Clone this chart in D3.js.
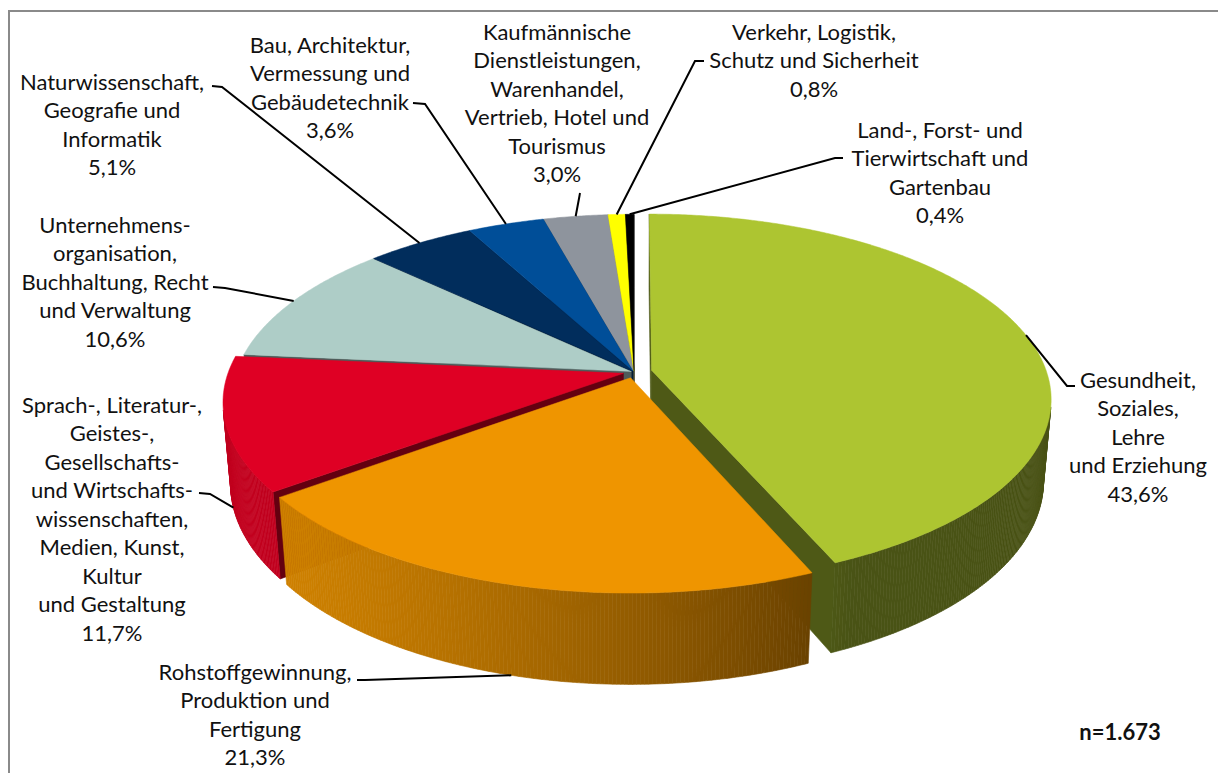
<!DOCTYPE html>
<html>
<head>
<meta charset="utf-8">
<script src="https://cdn.jsdelivr.net/npm/d3@7"></script>
<style>
	body { margin: 0; background: #fff; }
	text { font-family: Lato, "Open Sans", sans-serif; fill: #111; }
</style>
</head>
<body>
<svg id="chart" width="1218" height="773"></svg>
<script>
// data (clockwise from 12 o'clock)
var categories = [
	["Gesundheit,", "Soziales,", "Lehre", "und Erziehung"],
	["Rohstoffgewinnung,", "Produktion und", "Fertigung"],
	["Sprach-, Literatur-,", "Geistes-,", "Gesellschafts-", "und Wirtschafts-", "wissenschaften,", "Medien, Kunst,", "Kultur", "und Gestaltung"],
	["Unternehmens-", "organisation,", "Buchhaltung, Recht", "und Verwaltung"],
	["Naturwissenschaft,", "Geografie und", "Informatik"],
	["Bau, Architektur,", "Vermessung und", "Gebäudetechnik"],
	["Kaufmännische", "Dienstleistungen,", "Warenhandel,", "Vertrieb, Hotel und", "Tourismus"],
	["Verkehr, Logistik,", "Schutz und Sicherheit"],
	["Land-, Forst- und", "Tierwirtschaft und", "Gartenbau"]
];
var shares = [43.6, 21.3, 11.7, 10.6, 5.1, 3.6, 3.0, 0.8, 0.4];
var sliceColors = ["#adc531", "#ef9500", "#df0024", "#aecdc7", "#012d5c", "#004e98", "#8e949d", "#ffff00", "#000000"];
var sampleNote = "n=1.673";

// layout of the labels: centre x, first line y, start and elbow of leader
var labelLayout = [
	{ x: 1138, y: 380, from: [1075, 386], elbow: [1067, 386] },
	{ x: 255, y: 672, from: [357, 680], elbow: [365, 680] },
	{ x: 112, y: 405, from: [199, 493], elbow: [210, 494] },
	{ x: 115, y: 225, from: [213, 287], elbow: [225, 288] },
	{ x: 112, y: 82, from: [212, 86], elbow: [222, 87] },
	{ x: 330, y: 45, from: [413, 103], elbow: [425, 104] },
	{ x: 557, y: 32, from: [580, 193], elbow: [580, 193] },
	{ x: 814, y: 32, from: [704, 61], elbow: [695, 61] },
	{ x: 940, y: 130, from: [843, 158], elbow: [835, 158] }
];
var explode = [18, 13, 11, 3, 3, 3, 3, 3, 3];

var svg = d3.select("#chart");

// frame (cut off at right and bottom like the source)
svg.append("rect")
	.attr("x", 9).attr("y", 11)
	.attr("width", 1240).attr("height", 800)
	.attr("fill", "none")
	.attr("stroke", "#8a8a8a")
	.attr("stroke-width", 2);

// simple perspective camera for the 3d pie
var cx = 634, cy = 372, R = 395, H = 93, D = 2304;
var tilt = 27.2 * Math.PI / 180;
var sinT = Math.sin(tilt), cosT = Math.cos(tilt);
var camera = [0, D * sinT, D * cosT];

function project(p){
	var sy = p[2] * sinT - p[1] * cosT;
	var depth = p[2] * cosT + p[1] * sinT;
	var f = D / (D - depth);
	return { x: cx + p[0] * f, y: cy + sy * f, d: depth };
}

function shade(color, k){
	var c = d3.rgb(color);
	return d3.rgb(c.r * k, c.g * k, c.b * k).formatHex();
}

function faces(p, normal, P){
	var v = [camera[0] - P[0], camera[1] - P[1], camera[2] - P[2]];
	return normal[0] * v[0] + normal[1] * v[1] + normal[2] * v[2] > 0;
}

var arcs = d3.pie().sort(null).value(function(d){ return d; })(shares);

var sideFaces = [];
var topFaces = [];
var step = 0.5 * Math.PI / 180;

arcs.forEach(function(a, i){
	var a0 = a.startAngle, a1 = a.endAngle, am = (a0 + a1) / 2;
	var e = explode[i];
	var ox = e * Math.sin(am), oz = -e * Math.cos(am);
	var color = sliceColors[i];
	function rim(t, y){ return [ox + R * Math.sin(t), y, oz - R * Math.cos(t)]; }
	var centre = function(y){ return [ox, y, oz]; };
	a.rim = rim;
	a.mid = am;

	var n = Math.max(2, Math.ceil((a1 - a0) / step));
	var ts = d3.range(n + 1).map(function(k){ return a0 + (a1 - a0) * k / n; });

	// outer wall
	for(var k = 0; k < n; k++){
		var tm = (ts[k] + ts[k + 1]) / 2;
		var normal = [Math.sin(tm), 0, -Math.cos(tm)];
		if(!faces(null, normal, rim(tm, -H / 2))) continue;
		var light = Math.max(0, normal[0] * -0.9 + normal[2] * 0.44);
		sideFaces.push({
			pts: [rim(ts[k], 0), rim(ts[k + 1], 0), rim(ts[k + 1], -H), rim(ts[k], -H)],
			fill: shade(color, 0.42 + 0.45 * light)
		});
	}

	// cut faces
	var sn = [-Math.cos(a0), 0, -Math.sin(a0)];
	var sm = rim(a0, -H / 2); sm = [(sm[0] + ox) / 2, sm[1], (sm[2] + oz) / 2];
	if(faces(null, sn, sm)){
		sideFaces.push({ pts: [centre(0), rim(a0, 0), rim(a0, -H), centre(-H)], fill: shade(color, 0.45) });
	}
	var en = [Math.cos(a1), 0, Math.sin(a1)];
	var em = rim(a1, -H / 2); em = [(em[0] + ox) / 2, em[1], (em[2] + oz) / 2];
	if(faces(null, en, em)){
		sideFaces.push({ pts: [centre(0), rim(a1, 0), rim(a1, -H), centre(-H)], fill: shade(color, 0.45) });
	}

	// top
	topFaces.push({ pts: [centre(0)].concat(ts.map(function(t){ return rim(t, 0); })), fill: color });
});

sideFaces.forEach(function(f){
	f.proj = f.pts.map(project);
	f.depth = d3.mean(f.proj, function(p){ return p.d; });
});
sideFaces.sort(function(a, b){ return a.depth - b.depth; });
topFaces.forEach(function(f){ f.proj = f.pts.map(project); });

var line = d3.line().x(function(p){ return p.x; }).y(function(p){ return p.y; }).curve(d3.curveLinearClosed);

var pie = svg.append("g").attr("class", "pie");
pie.selectAll("path.side")
	.data(sideFaces)
	.enter()
	.append("path")
	.attr("class", "side")
	.attr("d", function(f){ return line(f.proj); })
	.attr("fill", function(f){ return f.fill; })
	.attr("stroke", function(f){ return f.fill; })
	.attr("stroke-width", 0.6);

pie.selectAll("path.top")
	.data(topFaces)
	.enter()
	.append("path")
	.attr("class", "top")
	.attr("d", function(f){ return line(f.proj); })
	.attr("fill", function(f){ return f.fill; })
	.attr("stroke", function(f){ return f.fill; })
	.attr("stroke-width", 0.5);

// labels + leader lines
var pct = function(v){ return d3.format(".1f")(v).replace(".", ",") + "%"; };
var lineH = 28.5;

var labels = svg.append("g").attr("class", "labels");
arcs.forEach(function(a, i){
	var L = labelLayout[i];
	var rows = categories[i].concat([pct(shares[i])]);
	var t = labels.append("text")
		.attr("text-anchor", "middle")
		.attr("font-size", 22);
	rows.forEach(function(r, j){
		t.append("tspan")
			.attr("x", L.x)
			.attr("y", L.y + j * lineH)
			.attr("dy", "0.35em")
			.text(r);
	});

	var front = Math.cos(a.mid) < 0;
	var target = project(a.rim(a.mid, front ? -H : 0));
	labels.append("path")
		.attr("d", d3.line()([L.from, L.elbow, [target.x, target.y]]))
		.attr("fill", "none")
		.attr("stroke", "#000")
		.attr("stroke-width", 2);
});

svg.append("text")
	.attr("x", 1120).attr("y", 732)
	.attr("dy", "0.35em")
	.attr("text-anchor", "middle")
	.attr("font-size", 22)
	.attr("font-weight", "bold")
	.text(sampleNote);
</script>
</body>
</html>
